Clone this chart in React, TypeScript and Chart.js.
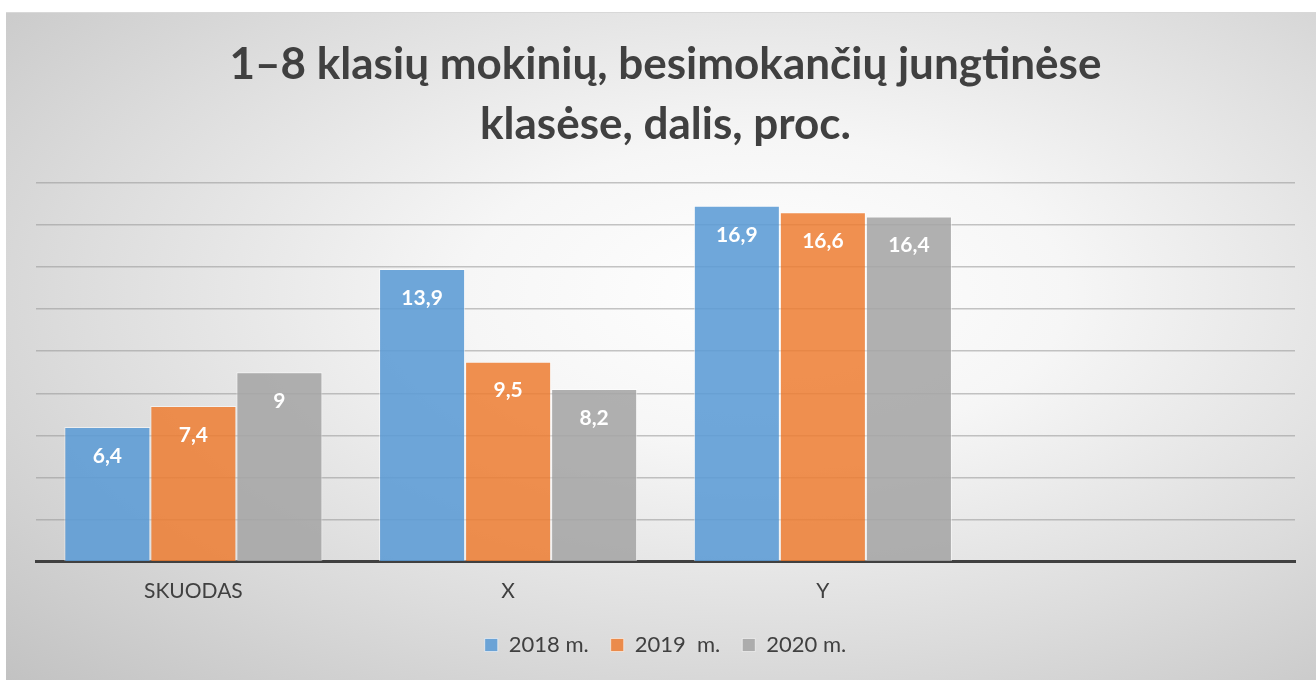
import React, { useEffect, useRef } from "react";
import { Chart, registerables } from "chart.js";

Chart.register(...registerables);

const categories = ["SKUODAS", "X", "Y", ""];
const seriesNames = ["2018 m.", "2019  m.", "2020 m."];
const values2018 = [6.4, 13.9, 16.9, null];
const values2019 = [7.4, 9.5, 16.6, null];
const values2020 = [9, 8.2, 16.4, null];
const titleLines = ["1–8 klasių mokinių, besimokančių jungtinėse", "klasėse, dalis, proc."];
const yMax = 18;
const yStep = 2;

const FONT = "Lato, 'Open Sans', sans-serif";
const TEXT = "#404040";

const labelPlugin = {
  id: "barValueLabels",
  afterDatasetsDraw(chart: any) {
    const ctx = chart.ctx;
    ctx.save();
    ctx.font = `bold 21px ${FONT}`;
    ctx.fillStyle = "#ffffff";
    ctx.textAlign = "center";
    ctx.textBaseline = "middle";
    chart.data.datasets.forEach((ds: any, i: number) => {
      const meta = chart.getDatasetMeta(i);
      meta.data.forEach((bar: any, j: number) => {
        const v = ds.data[j];
        if (v === null || v === undefined) return;
        const txt = String(v).replace(".", ",");
        ctx.fillText(txt, bar.x, bar.y + 29);
      });
    });
    ctx.restore();
  },
};

export default function App() {
  const ref = useRef<HTMLCanvasElement | null>(null);
  useEffect(() => {
    if (!ref.current) return;
    const chart = new Chart(ref.current, {
      type: "bar",
      data: {
        labels: categories,
        datasets: [
          {
            label: seriesNames[0],
            data: values2018,
            backgroundColor: "rgba(91,155,213,0.88)",
            borderColor: "rgba(255,255,255,0.55)",
            borderWidth: 1,
          },
          {
            label: seriesNames[1],
            data: values2019,
            backgroundColor: "rgba(237,125,49,0.85)",
            borderColor: "rgba(255,255,255,0.55)",
            borderWidth: 1,
          },
          {
            label: seriesNames[2],
            data: values2020,
            backgroundColor: "rgba(165,165,165,0.88)",
            borderColor: "rgba(255,255,255,0.55)",
            borderWidth: 1,
          },
        ],
      },
      options: {
        responsive: false,
        animation: false,
        layout: { padding: { left: 30, right: 21, top: 0, bottom: 15 } },
        datasets: { bar: { categoryPercentage: 0.82, barPercentage: 1 } },
        scales: {
          x: {
            grid: { display: false },
            border: { display: true, color: "#404040", width: 3 },
            ticks: { color: TEXT, font: { family: FONT, size: 21 }, padding: 9 },
            afterFit: (scale: any) => {
              scale.height -= 1;
            },
          },
          y: {
            min: 0,
            max: yMax,
            ticks: { stepSize: yStep, display: false },
            grid: { color: "rgba(150,150,150,0.55)", lineWidth: 1.5, drawTicks: false },
            border: { display: false },
          },
        },
        plugins: {
          title: {
            display: true,
            text: titleLines,
            color: TEXT,
            font: { family: FONT, size: 44, weight: "bold", lineHeight: 1.36 },
            padding: { top: 22, bottom: 28 },
          },
          legend: {
            position: "bottom",
            labels: {
              color: TEXT,
              font: { family: FONT, size: 22 },
              boxWidth: 13,
              boxHeight: 13,
              padding: 22,
            },
          },
          tooltip: { enabled: false },
        },
      },
      plugins: [labelPlugin],
    });
    return () => chart.destroy();
  }, []);

  return (
    <div
      style={{
        position: "absolute",
        left: 6,
        top: 12,
        width: 1310,
        height: 668,
        borderTop: "1px solid #d8d8d8",
        background:
          "radial-gradient(ellipse at 58% 42%, #ffffff 0%, #f6f6f6 28%, #dcdcdc 65%, #c2c2c2 100%)",
      }}
    >
      <canvas ref={ref} width={1310} height={668} style={{ display: "block" }} />
    </div>
  );
}
